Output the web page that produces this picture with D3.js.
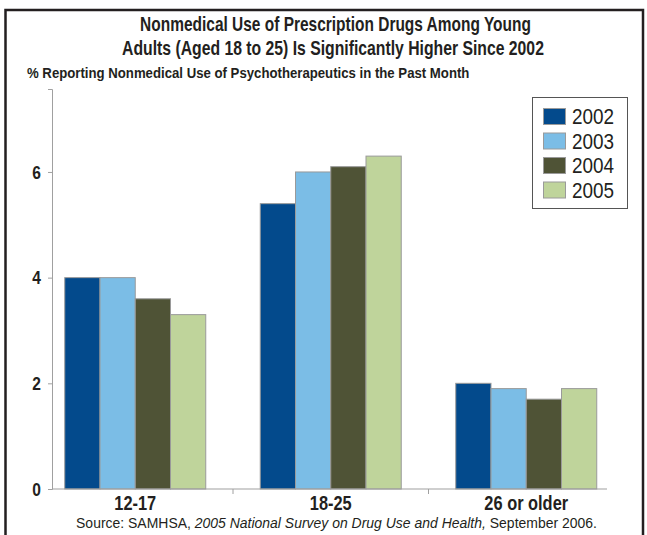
<!DOCTYPE html>
<html><head><meta charset="utf-8">
<script src="https://cdn.jsdelivr.net/npm/d3@7"></script>
<style>
html,body{margin:0;padding:0;background:#fff;}
svg{display:block;}
text{font-family:"Liberation Sans",Arial,sans-serif;fill:#231f20;}
</style></head><body>
<script>
const categories = ["12-17", "18-25", "26 or older"];
const years = ["2002", "2003", "2004", "2005"];
const values2002 = [4.0, 5.4, 2.0];
const values2003 = [4.0, 6.0, 1.9];
const values2004 = [3.6, 6.1, 1.7];
const values2005 = [3.3, 6.3, 1.9];
const yTicks = [0, 2, 4, 6];
const colors = ["#034a8c", "#7bbde6", "#4f5336", "#bfd49b"];
const titleLines = ["Nonmedical Use of Prescription Drugs Among Young",
  "Adults (Aged 18 to 25) Is Significantly Higher Since 2002"];
const subtitle = "% Reporting Nonmedical Use of Psychotherapeutics in the Past Month";

const series = [values2002, values2003, values2004, values2005];
const W = 647, H = 535;
const svg = d3.select("body").append("svg").attr("width", W).attr("height", H);

function condense(sel, ax, sx) {
  sel.attr("transform", `translate(${ax},0) scale(${sx},1) translate(${-ax},0)`);
}
function fitWidth(sel, ax, target) {
  const len = sel.node().getComputedTextLength();
  condense(sel, ax, target / len);
}

// frame
svg.append("rect").attr("x", 5.5).attr("y", 10).attr("width", 637.5).attr("height", 560)
  .attr("fill", "none").attr("stroke", "#231f20").attr("stroke-width", 2.5);

const x0 = d3.scaleBand().domain(categories).range([37.5, 624]).paddingInner(0).paddingOuter(0);
const x1 = d3.scaleBand().domain(years).range([0, x0.bandwidth()]).paddingInner(0).paddingOuter(0.773);
const y = d3.scaleLinear().domain([0, 7.57]).range([489, 89]);

// bars
categories.forEach((c, ci) => {
  const g = svg.append("g").attr("transform", `translate(${x0(c)},0)`);
  years.forEach((yr, yi) => {
    const v = series[yi][ci];
    g.append("rect").attr("x", x1(yr)).attr("y", y(v))
      .attr("width", x1.bandwidth()).attr("height", y(0) - y(v))
      .attr("fill", colors[yi]).attr("stroke", "#9a9a9a").attr("stroke-width", 1);
  });
});

// y axis
const yAxis = d3.axisLeft(y).tickValues(yTicks).tickSize(4).tickPadding(7).tickFormat(d3.format("d"));
const ya = svg.append("g").attr("transform", "translate(52,0)").call(yAxis);
ya.select(".domain").attr("stroke", "#a0a0a0");
ya.selectAll(".tick line").attr("stroke", "#a0a0a0");
ya.selectAll("text").style("font-family", '"Liberation Sans",Arial,sans-serif')
  .style("font-size", "19px").style("font-weight", "bold").attr("fill", "#231f20")
  .each(function () { condense(d3.select(this), -11, 0.82); });

// x axis line and separator ticks
svg.append("line").attr("x1", 52).attr("x2", 607).attr("y1", y(0)).attr("y2", y(0))
  .attr("stroke", "#a0a0a0").attr("stroke-width", 1.2);
categories.slice(1).forEach(c => {
  svg.append("line").attr("x1", x0(c)).attr("x2", x0(c)).attr("y1", y(0)).attr("y2", y(0) + 5)
    .attr("stroke", "#a0a0a0");
});
categories.forEach(c => {
  const cx = x0(c) + x0.bandwidth() / 2;
  const t = svg.append("text").attr("x", cx).attr("y", 510.5)
    .attr("text-anchor", "middle").style("font-size", "20px").style("font-weight", "bold").text(c);
  condense(t, cx, 0.82);
});

// titles
const t1 = svg.append("text").attr("x", 335.5).attr("y", 31.5).attr("text-anchor", "middle")
  .style("font-size", "19.5px").style("font-weight", "bold").text(titleLines[0]);
fitWidth(t1, 335.5, 391);
const t2 = svg.append("text").attr("x", 333).attr("y", 55.5).attr("text-anchor", "middle")
  .style("font-size", "19.5px").style("font-weight", "bold").text(titleLines[1]);
fitWidth(t2, 333, 422);
const st = svg.append("text").attr("x", 27).attr("y", 78).attr("text-anchor", "start")
  .style("font-size", "15px").style("font-weight", "bold").text(subtitle);
fitWidth(st, 27, 443);

// source
const src = svg.append("text").attr("x", 336.5).attr("y", 527.5).attr("text-anchor", "middle").style("font-size", "15.5px");
src.append("tspan").text("Source: SAMHSA, ");
src.append("tspan").style("font-style", "italic").text("2005 National Survey on Drug Use and Health,");
src.append("tspan").text(" September 2006.");
fitWidth(src, 336.5, 521);

// legend
const lg = svg.append("g");
lg.append("rect").attr("x", 532.5).attr("y", 97.5).attr("width", 95).attr("height", 111)
  .attr("fill", "#fff").attr("stroke", "#555").attr("stroke-width", 1);
years.forEach((yr, i) => {
  lg.append("rect").attr("x", 543.5).attr("y", 108.5 + i * 24.5).attr("width", 22).attr("height", 16)
    .attr("fill", colors[i]).attr("stroke", "#9a9a9a");
  const t = lg.append("text").attr("x", 572).attr("y", 124.5 + i * 24.5).style("font-size", "22px").text(yr);
  condense(t, 572, 0.86);
});
</script>
</body></html>
